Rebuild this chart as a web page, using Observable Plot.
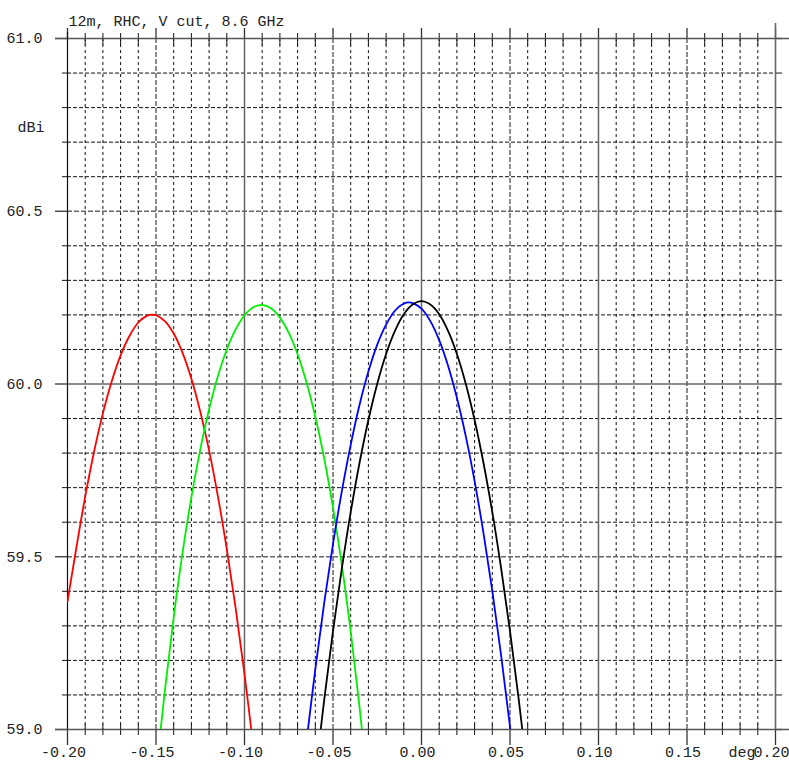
<!DOCTYPE html>
<html>
<head>
<meta charset="utf-8">
<script src="https://cdn.jsdelivr.net/npm/d3@7"></script>
<script src="https://cdn.jsdelivr.net/npm/@observablehq/plot@0.6"></script>
<style>
  html, body { margin: 0; padding: 0; background: #fff; }
  #chart svg { display: block; }
</style>
</head>
<body>
<div id="chart"></div>
<script>
// ---- texts ----
const title = "12m, RHC, V cut, 8.6 GHz";
const yUnit = "dBi";
const xUnit = "deg";

// ---- ticks ----
const xMajor = [-0.20, -0.15, -0.10, -0.05, 0.00, 0.05, 0.10, 0.15, 0.20];
const xLabels = ["-0.20", "-0.15", "-0.10", "-0.05", "0.00", "0.05", "0.10", "0.15", "0.20"];
const xSolid = [-0.10, 0.00, 0.10];
const xHalf = [-0.15, -0.05, 0.05, 0.15];
const xMinor = [-0.19, -0.18, -0.17, -0.16, -0.14, -0.13, -0.12, -0.11, -0.09, -0.08, -0.07, -0.06,
                -0.04, -0.03, -0.02, -0.01, 0.01, 0.02, 0.03, 0.04, 0.06, 0.07, 0.08, 0.09,
                0.11, 0.12, 0.13, 0.14, 0.16, 0.17, 0.18, 0.19];
const yMajor = [59.0, 59.5, 60.0, 60.5, 61.0];
const yLabels = ["59.0", "59.5", "60.0", "60.5", "61.0"];
const yEdges = [59.0, 61.0];
const ySolid = [60.0];
const yHalf = [59.5, 60.5];
const yMinor = [59.1, 59.2, 59.3, 59.4, 59.6, 59.7, 59.8, 59.9, 60.1, 60.2, 60.3, 60.4, 60.6, 60.7, 60.8, 60.9];

// ---- series (deg, dBi) ----
const redX = [-0.200, -0.195, -0.190, -0.185, -0.180, -0.175, -0.170, -0.165, -0.160, -0.155, -0.152, -0.150,
              -0.145, -0.140, -0.135, -0.130, -0.125, -0.120, -0.115, -0.110, -0.105, -0.100, -0.095];
const redY = [59.370, 59.526, 59.674, 59.804, 59.915, 60.008, 60.083, 60.139, 60.178, 60.198, 60.201, 60.199,
              60.182, 60.146, 60.090, 60.015, 59.920, 59.807, 59.674, 59.522, 59.351, 59.160, 58.950];

const greenX = [-0.150, -0.145, -0.140, -0.135, -0.130, -0.125, -0.120, -0.115, -0.110, -0.105, -0.100, -0.095,
                -0.090, -0.085, -0.080, -0.075, -0.070, -0.065, -0.060, -0.055, -0.050, -0.045, -0.040, -0.035, -0.030];
const greenY = [58.870, 59.112, 59.325, 59.512, 59.672, 59.810, 59.927, 60.023, 60.100, 60.158, 60.199, 60.222,
                60.229, 60.219, 60.192, 60.148, 60.086, 60.005, 59.905, 59.785, 59.642, 59.476, 59.284, 59.065, 58.817];

const blueX = [-0.065, -0.060, -0.055, -0.050, -0.045, -0.040, -0.035, -0.030, -0.025, -0.020, -0.015, -0.010,
               -0.007, -0.005, 0.000, 0.005, 0.010, 0.015, 0.020, 0.025, 0.030, 0.035, 0.040, 0.045, 0.050, 0.055];
const blueY = [58.964, 59.174, 59.365, 59.537, 59.690, 59.824, 59.940, 60.036, 60.114, 60.172, 60.212, 60.233,
               60.236, 60.234, 60.218, 60.182, 60.127, 60.053, 59.960, 59.849, 59.719, 59.569, 59.401, 59.214, 59.008, 58.783];

const blackX = [-0.060, -0.055, -0.050, -0.045, -0.040, -0.035, -0.030, -0.025, -0.020, -0.015, -0.010, -0.005,
                0.000, 0.005, 0.010, 0.015, 0.020, 0.025, 0.030, 0.035, 0.040, 0.045, 0.050, 0.055, 0.060];
const blackY = [58.865, 59.084, 59.285, 59.466, 59.629, 59.772, 59.896, 60.001, 60.087, 60.154, 60.202, 60.230,
                60.240, 60.230, 60.202, 60.154, 60.087, 60.001, 59.896, 59.772, 59.629, 59.466, 59.285, 59.084, 58.865];

const seriesNames = ["beam A", "beam B", "beam C", "beam D"];
const seriesColors = ["#ff0000", "#00ee00", "#0000ff", "#000000"];
const seriesXs = [redX, greenX, blueX, blackX];
const seriesYs = [redY, greenY, blueY, blackY];

const rows = seriesNames.flatMap((s, k) => seriesXs[k].map((x, i) => ({series: s, x, y: seriesYs[k][i]})));

const font = "'Liberation Mono', 'Courier New', monospace";
const textFill = "#222";

const chart = Plot.plot({
  width: 789,
  height: 767,
  marginLeft: 67,
  marginRight: 14,
  marginTop: 38,
  marginBottom: 38,
  style: {background: "#fff", fontFamily: font, overflow: "visible"},
  x: {domain: [-0.2, 0.2], axis: null},
  y: {domain: [59, 61], axis: null},
  color: {type: "ordinal", domain: seriesNames, range: seriesColors},
  marks: [
    // minor vertical dashed grid
    Plot.ruleX(xMinor, {stroke: "#111", strokeWidth: 1, strokeDasharray: "3,3"}),
    // minor x ticks crossing top and bottom edges
    Plot.ruleX(xMinor, {y1: 61, y2: 61, insetTop: -5, insetBottom: -7, stroke: "#111", strokeWidth: 1}),
    Plot.ruleX(xMinor, {y1: 59, y2: 59, insetTop: -5, insetBottom: -6, stroke: "#111", strokeWidth: 1}),
    // minor horizontal dashed grid
    Plot.ruleY(yMinor, {stroke: "#111", strokeWidth: 1, strokeDasharray: "4,2"}),
    // minor y ticks left & right
    Plot.ruleY(yMinor, {x1: -0.2, x2: -0.2, insetLeft: -5, insetRight: 0, stroke: "#111", strokeWidth: 1}),
    Plot.ruleY(yMinor, {x1: 0.2, x2: 0.2, insetLeft: 0, insetRight: -7, stroke: "#111", strokeWidth: 1}),
    // half-major grid (dashed grey)
    Plot.ruleX(xHalf, {stroke: "#666", strokeWidth: 1.5, strokeDasharray: "5,2"}),
    Plot.ruleY(yHalf, {stroke: "#666", strokeWidth: 1.5, strokeDasharray: "5,2"}),
    // solid major grid
    Plot.ruleX(xSolid, {stroke: "#666", strokeWidth: 1.5}),
    Plot.ruleY(ySolid, {stroke: "#666", strokeWidth: 1.5}),
    // major x ticks above and below frame
    Plot.ruleX(xMajor, {y1: 61, y2: 61, insetTop: -10, insetBottom: 0, stroke: "#333", strokeWidth: 1.3}),
    Plot.ruleX(xMajor, {y1: 59, y2: 59, insetTop: 0, insetBottom: -16, stroke: "#333", strokeWidth: 1.3}),
    // major y ticks left & right
    Plot.ruleY(yMajor, {x1: -0.2, x2: -0.2, insetLeft: -12, insetRight: 0, stroke: "#333", strokeWidth: 1.3}),
    Plot.ruleY(yMajor, {x1: 0.2, x2: 0.2, insetLeft: 0, insetRight: -7, stroke: "#333", strokeWidth: 1.3}),
    // frame: top & bottom lines extended, left & right edges
    Plot.ruleY(yEdges, {insetLeft: -12, insetRight: -14, stroke: "#555", strokeWidth: 1.6}),
    Plot.ruleX([-0.2], {insetTop: -6, stroke: "#111", strokeWidth: 1.2}),
    Plot.ruleX([0.2], {insetTop: -15, stroke: "#666", strokeWidth: 1.6}),
    // data curves
    Plot.line(rows, {x: "x", y: "y", z: "series", stroke: "series", strokeWidth: 1.8, curve: "catmull-rom", clip: true}),
    // tick labels
    Plot.text(yMajor, {x: -0.2, y: d => d, text: (d, i) => yLabels[i], textAnchor: "end", dx: -25,
      fontSize: 15, fontFamily: font, fill: textFill}),
    Plot.text(xMajor, {x: d => d, y: 59, text: (d, i) => xLabels[i], dx: -4, dy: 23,
      fontSize: 15, fontFamily: font, fill: textFill}),
    Plot.text([xUnit], {x: 0.2, y: 59, text: d => d, textAnchor: "end", dx: -20, dy: 23,
      fontSize: 15, fontFamily: font, fill: textFill}),
    Plot.text([yUnit], {frameAnchor: "top-left", text: d => d, textAnchor: "start", dx: -50, dy: 83,
      fontSize: 15, fontFamily: font, fill: textFill}),
    Plot.text([title], {frameAnchor: "top-left", text: d => d, textAnchor: "start", dx: 1, dy: -23,
      fontSize: 15, fontFamily: font, fill: textFill})
  ]
});
document.getElementById("chart").appendChild(chart);
</script>
</body>
</html>
